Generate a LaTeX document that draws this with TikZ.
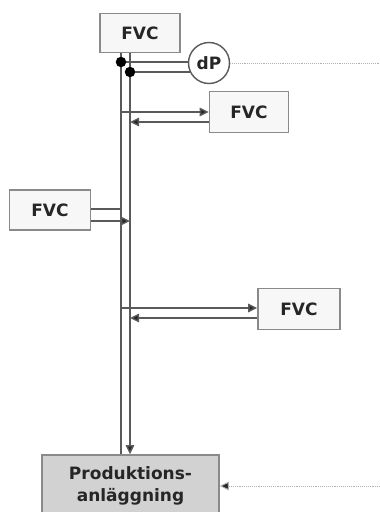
\documentclass[tikz,border=0pt]{standalone}
\usepackage{fontspec}
\setmainfont{DejaVu Sans}
\usepackage{xcolor}
\usetikzlibrary{arrows.meta, positioning, calc}

\definecolor{pipegray}{HTML}{5A5A5A}
\definecolor{boxgray}{HTML}{8A8A8A}
\definecolor{prodfill}{HTML}{D2D2D2}

\begin{document}
\begin{tikzpicture}[
    x=1pt, y=-1pt,
    every node/.style={font=\bfseries\fontsize{17}{22}\selectfont, text=black!85},
    fvc/.style={
        rectangle,
        draw=boxgray,
        fill=white!97!black,
        line width=1.6pt,
        text centered,
        minimum width=80pt,
        minimum height=39pt
    },
    pipe/.style={pipegray, line width=1.4pt},
    arrow/.style={pipe, -{Triangle[length=9pt,width=8.5pt,fill=black!85]}},
    signal/.style={gray!60, line width=0.9pt, densely dotted},
    dot/.style={circle, fill=black, inner sep=0pt, minimum size=10.5pt}
]
\useasboundingbox (0,0) rectangle (380,512);

\node (fvctop) [fvc] at (140,33) {FVC};
\node (dp) [circle, draw=pipegray, line width=1.4pt, fill=white, minimum size=41pt, inner sep=0pt] at (209,63) {dP};
\node (fvca) [fvc, minimum width=79pt, minimum height=41pt] at (249,112) {FVC};
\node (fvcb) [fvc, minimum width=81pt, minimum height=40pt] at (50,210) {FVC};
\node (fvcc) [fvc, minimum width=82pt, minimum height=41pt] at (299,309) {FVC};
\node (prod) [fvc, fill=prodfill, minimum width=177pt, minimum height=62pt, align=center, inner sep=2pt] at (130.5,486) {Produktions-\\anläggning};

% the two pipe walls
\coordinate (pl) at (121,0);
\coordinate (pr) at (130,0);
\draw [pipe] (fvctop.south -| pl) -- (prod.north -| pl);
\draw [arrow] (fvctop.south -| pr) -- (prod.north -| pr);

% dP taps
\node (d1) [dot] at (121,62) {};
\node (d2) [dot] at (130,72) {};
\draw [pipe] (d1) -- (d1 -| dp.west);
\draw [pipe] (d2) -- (d2 -| dp.205);
\draw [signal] (dp.east) -- (380,63);

% branches
\draw [arrow] (fvca.west -| pl) -- (fvca.west);
\draw [arrow] ([yshift=-10pt]fvca.west) -- ([yshift=-10pt]fvca.west -| pr);

\draw [pipe] ([yshift=1pt]fvcb.east) -- ([yshift=1pt]fvcb.east -| pl);
\draw [arrow] ([yshift=-11pt]fvcb.east) -- ([yshift=-11pt]fvcb.east -| pr);

\draw [arrow] ([yshift=1pt]fvcc.west -| pl) -- ([yshift=1pt]fvcc.west);
\draw [arrow] ([yshift=-9pt]fvcc.west) -- ([yshift=-9pt]fvcc.west -| pr);

% supply to the plant
\draw [signal, -{Triangle[length=9pt,width=8.5pt,fill=black!85]}] (380,486) -- (prod.east);

\end{tikzpicture}
\end{document}
